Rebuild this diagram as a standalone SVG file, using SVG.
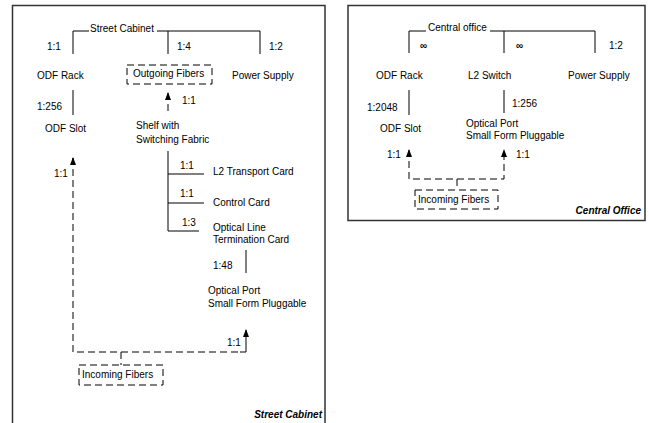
<svg xmlns="http://www.w3.org/2000/svg" width="649" height="423" viewBox="0 0 649 423">
<style>
text{font-family:"Liberation Sans",Arial,sans-serif;font-size:10px;fill:#000}
.t{font-weight:bold;font-style:italic}
.ln{stroke:#000;stroke-width:1;fill:none}
.ds{stroke:#000;stroke-width:1;fill:none;stroke-dasharray:7 4}
.frame{stroke:#333;stroke-width:1.5;fill:#fff}
</style>
<defs>
<marker id="ah" viewBox="0 0 8 6" refX="7" refY="3" markerWidth="8" markerHeight="6" markerUnits="userSpaceOnUse" orient="auto-start-reverse">
<path d="M0,0 L8,3 L0,6 Z" fill="#000"/>
</marker>
</defs>
<rect width="649" height="423" fill="#fff"/>
<g id="street-cabinet-frame">
<path class="frame" d="M12.5,424 V5.5 H325 V424"/>
<text class="t" x="322" y="418" text-anchor="end">Street Cabinet</text>
</g>
<g id="central-office-frame">
<rect class="frame" x="348" y="5.5" width="297" height="215"/>
<text class="t" x="641" y="214" text-anchor="end">Central Office</text>
</g>
<g id="connectors">
<path class="ln" d="M73,54 V31 H89 M157,31 H260 V54 M168,31 V54"/>
<path class="ln" d="M73,90 V115"/>
<path class="ds" d="M168,93 V113" marker-start="url(#ah)"/>
<path class="ln" d="M168,151 V231 M168,174 H204 M168,203 H204 M168,231 H199"/>
<path class="ln" d="M246,250 V273"/>
<path class="ds" d="M73,158 V352 H240"/>
<path class="ln" d="M73,158 V163" marker-start="url(#ah)"/>
<path class="ln" d="M240,352 H246 V330" marker-end="url(#ah)"/>
<path class="ds" d="M121,352 V365"/>
<path class="ln" d="M409,53 V31 H426 M490,31 H595 V53 M504,31 V53"/>
<path class="ln" d="M409,90 V115 M504,90 V113"/>
<path class="ds" d="M409,150 V179 H504 V150" marker-start="url(#ah)" marker-end="url(#ah)"/>
<path class="ds" d="M457,179 V190"/>
</g>
<g id="sc-title"><text x="90" y="32">Street Cabinet</text></g>
<g id="sc-ratios">
<text x="47" y="50">1:1</text><text x="177" y="50">1:4</text><text x="269" y="50">1:2</text>
<text x="37" y="110">1:256</text><text x="182" y="104">1:1</text>
<text x="54" y="177">1:1</text>
<text x="180" y="169">1:1</text><text x="180" y="197">1:1</text><text x="182" y="226">1:3</text>
<text x="213" y="269">1:48</text><text x="227" y="346">1:1</text>
</g>
<g id="sc-odf-rack"><text x="37" y="79">ODF Rack</text></g>
<g id="sc-outgoing"><rect class="ds" x="127" y="65" width="85" height="19"/><text x="133" y="77">Outgoing Fibers</text></g>
<g id="sc-power"><text x="232" y="79">Power Supply</text></g>
<g id="sc-odf-slot"><text x="45" y="132">ODF Slot</text></g>
<g id="sc-shelf"><text x="136" y="129">Shelf with</text><text x="136" y="143">Switching Fabric</text></g>
<g id="sc-l2"><text x="213" y="175">L2 Transport Card</text></g>
<g id="sc-control"><text x="213" y="206">Control Card</text></g>
<g id="sc-olt"><text x="213" y="231">Optical Line</text><text x="213" y="243">Termination Card</text></g>
<g id="sc-sfp"><text x="208" y="294">Optical Port</text><text x="208" y="307">Small Form Pluggable</text></g>
<g id="sc-incoming"><rect class="ds" x="79" y="365" width="84" height="20"/><text x="82" y="378">Incoming Fibers</text></g>
<g id="co-title"><text x="428" y="31">Central office</text></g>
<g id="co-ratios">
<text x="420" y="49" font-weight="bold">∞</text><text x="516" y="49" font-weight="bold">∞</text><text x="609" y="49">1:2</text>
<text x="367" y="111">1:2048</text><text x="512" y="107">1:256</text>
<text x="387" y="158">1:1</text><text x="516" y="158">1:1</text>
</g>
<g id="co-odf-rack"><text x="376" y="79">ODF Rack</text></g>
<g id="co-l2"><text x="468" y="79">L2 Switch</text></g>
<g id="co-power"><text x="568" y="79">Power Supply</text></g>
<g id="co-odf-slot"><text x="380" y="132">ODF Slot</text></g>
<g id="co-sfp"><text x="466" y="127">Optical Port</text><text x="466" y="139">Small Form Pluggable</text></g>
<g id="co-incoming"><rect class="ds" x="415" y="190" width="83" height="19"/><text x="418" y="203">Incoming Fibers</text></g>
</svg>
